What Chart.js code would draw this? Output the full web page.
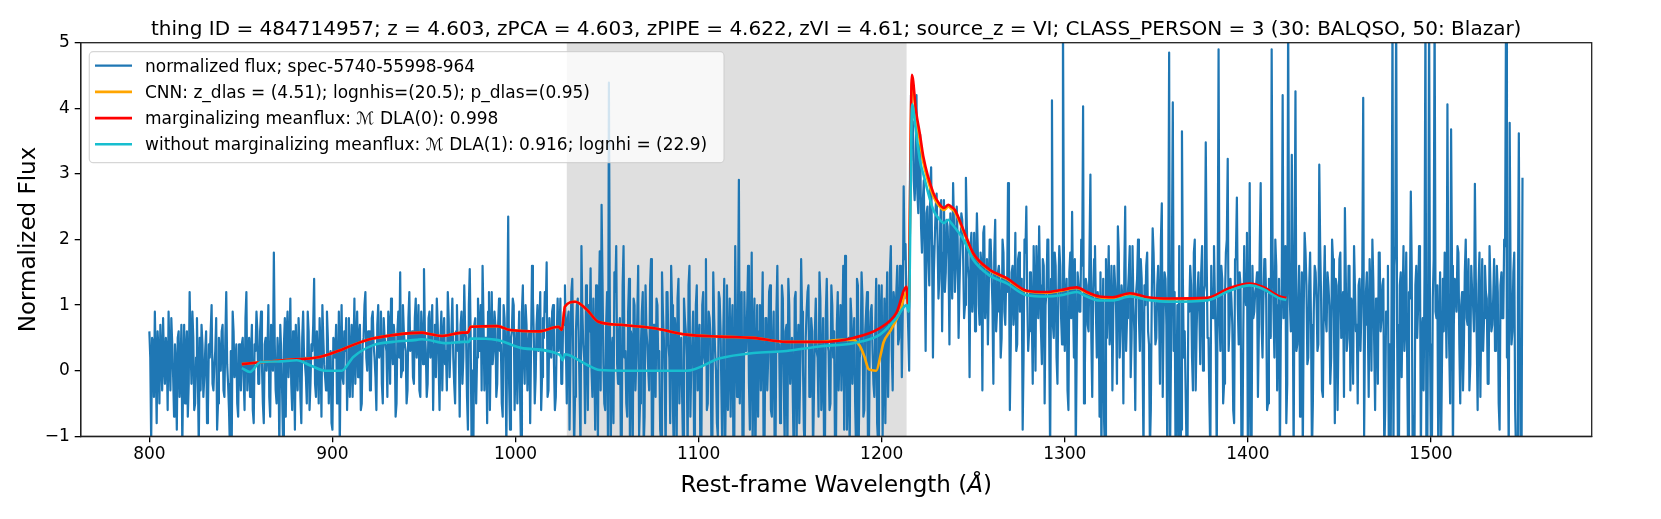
<!DOCTYPE html>
<html><head><meta charset="utf-8">
<script src="https://cdn.jsdelivr.net/npm/chart.js@4.4.1/dist/chart.umd.min.js"></script>
<style>html,body{margin:0;padding:0;background:#fff;overflow:hidden}canvas{display:block}</style>
</head><body>
<canvas id="c" width="1661" height="519" style="width:1661px;height:519px"></canvas>
<script>
// ---------------- data ----------------
const waveStart = 800, waveStep = 1;   // rest-frame wavelength grid (Å)
// flux at 800, 801, ... 1550 Å
const fluxValues = [
// 800-849
0.6,-1.1,0.4,0.9,-0.8,0.3,0.7,-0.3,0.1,0.5,
-0.6,0.2,0.8,-0.1,0.4,-0.9,0.6,0.0,-1.2,0.7,
0.3,-0.7,1.2,-0.2,0.5,-0.5,0.8,-1.2,-0.3,0.4,
-0.1,0.6,-0.6,0.2,1.0,-0.3,0.3,-0.9,0.5,0.0,
0.7,-0.4,1.2,-0.2,-1.2,-1.1,0.6,0.1,-0.5,0.4,
// 850-899
-0.3,0.5,-0.6,1.2,0.1,-0.4,0.7,-0.8,0.3,0.6,
-0.2,0.9,-0.5,0.4,0.0,1.0,-0.7,0.2,1.8,-0.3,
0.5,-1.2,0.3,-1.1,0.8,0.6,-0.1,1.1,-0.6,0.2,
0.7,-0.3,0.4,-0.8,0.9,0.1,-0.5,0.6,-0.2,0.3,
1.4,-0.4,0.2,0.8,-0.7,0.5,-0.1,0.9,-0.5,0.3,
// 900-999
-0.9,0.4,0.7,-0.3,-1.2,1.0,-0.2,0.3,-0.6,0.8,
0.2,-0.4,1.1,0.4,-0.1,0.7,-0.5,0.5,1.2,0.0,
0.6,-0.3,0.9,0.2,-0.6,1.0,0.3,-0.2,0.8,0.4,
-0.4,0.7,1.1,0.1,0.5,-0.5,0.9,1.5,0.0,0.6,
0.3,-0.3,1.2,0.5,-0.1,0.8,0.2,1.0,-0.4,0.6,
1.55,0.3,-0.2,0.9,0.4,-0.6,0.7,1.1,0.1,0.5,
-0.3,0.8,0.3,1.2,-0.1,0.6,0.2,-0.5,1.0,0.4,
0.7,-0.2,1.3,0.5,-0.9,1.55,-1.2,-1.1,0.8,0.2,
0.6,1.0,1.6,-0.3,0.5,0.9,-0.6,1.2,0.3,0.7,
-0.2,1.1,0.4,-0.7,0.8,-1.2,2.35,-0.9,0.6,1.0,
// 1000-1027
0.2,-0.5,0.9,-1.2,1.3,-0.2,0.7,0.3,-0.8,1.6,
0.5,-0.1,1.0,0.6,-0.6,0.8,1.2,1.65,-0.3,0.4,
0.9,0.1,-0.4,1.1,0.5,-0.2,0.8,1.3,
// 1028-1213 (Lyman forest)
-0.5,0.9,0.2,1.4,-1.2,0.6,1.1,-0.3,1.9,0.4,
-0.8,0.7,1.0,1.56,-0.4,0.3,1.3,-1.1,1.82,2.53,
0.1,-0.6,1.2,4.39,-1.3,0.5,1.5,1.9,-0.2,0.8,
-1.2,1.9,0.3,-0.7,1.4,0.6,-1.3,1.0,0.2,1.6,
-0.5,0.9,-1.2,1.3,0.4,-0.3,1.7,-1.4,0.7,1.1,
0.0,-0.9,1.5,0.5,-1.3,1.2,0.2,1.6,-0.6,0.8,
-1.2,1.4,0.3,-0.4,1.1,0.6,-1.3,1.6,0.1,0.9,
-0.7,1.3,0.4,-1.5,1.0,0.2,1.7,-0.5,0.8,-1.2,
1.5,0.3,-0.8,1.2,0.6,-1.3,1.4,0.0,-0.6,1.1,
0.5,-1.2,1.9,-0.4,2.91,0.7,-1.3,1.2,0.3,1.6,
-0.9,1.8,0.4,-1.4,1.0,0.6,-0.3,1.5,-1.2,0.8,
0.2,1.3,-0.7,0.9,-1.3,1.6,0.4,-0.5,1.1,-1.1,
0.7,1.4,-0.2,0.5,-1.4,1.2,0.3,-0.8,1.7,0.1,
-1.2,0.9,1.3,-0.4,0.6,-1.3,1.1,0.2,1.5,-0.6,
0.8,-1.2,1.4,0.3,-0.5,1.0,0.6,-1.3,1.2,0.4,
-0.3,1.6,1.75,-0.9,0.5,1.1,-0.2,0.8,-1.2,1.3,
0.2,1.5,-0.7,0.6,1.2,-1.3,0.9,0.3,-0.4,1.4,
-1.1,0.7,1.3,0.1,-0.8,1.5,0.6,1.9,-0.3,1.0,
1.2,0.4,1.6,-0.1,2.81,1.93,
// 1214-1263 (Ly-alpha emission)
1.2,0.0,4.2,3.8,2.6,4.2,2.4,3.6,1.8,2.9,
0.3,2.5,1.3,3.1,0.2,2.0,2.7,1.1,2.3,0.6,
2.6,1.5,2.2,0.4,2.0,2.86,1.2,2.5,0.5,1.9,
2.3,0.8,2.94,1.6,-0.1,2.1,1.3,0.6,2.4,1.0,
1.8,-0.3,2.2,1.2,0.4,2.0,1.5,-0.2,2.3,0.9,
// 1264-1550
1.6,0.2,2.0,0.9,1.4,2.86,-0.6,1.5,0.7,2.1,
0.4,1.8,1.1,-0.9,2.0,2.5,0.3,1.5,0.8,1.9,
0.0,1.3,2.2,0.6,1.7,-0.5,1.2,2.0,-1.3,4.12,
0.5,1.6,-0.2,1.9,0.8,5.5,0.3,1.4,-0.6,1.8,
2.42,0.2,-1.3,1.5,0.9,2.0,4.03,0.1,1.3,0.6,
2.99,-0.4,1.7,0.9,1.2,-0.7,-1.3,1.4,-1.3,0.5,
1.9,0.7,-0.3,1.6,1.0,2.2,0.2,1.3,-0.5,2.5,
0.8,1.5,-0.1,1.9,0.6,1.2,2.0,0.3,1.4,-1.3,
1.0,1.8,0.4,-0.6,2.17,1.1,0.5,1.6,-0.2,2.55,
0.9,1.4,-1.3,4.85,-1.3,4.09,1.2,-0.4,-1.3,-1.3,
3.65,0.2,-0.3,-1.3,0.9,1.3,-0.3,2.0,0.6,1.5,
0.1,1.9,1.2,3.48,0.5,-0.5,1.6,0.8,1.1,-1.3,
4.9,0.3,1.4,-0.2,1.8,3.23,0.7,1.1,-0.6,1.7,
2.64,0.4,1.3,-1.3,1.9,1.0,-1.3,2.86,-1.3,0.8,
1.2,1.5,0.6,2.86,0.2,1.7,1.1,-0.5,1.0,4.9,
0.9,2.0,-0.3,1.4,0.6,4.2,1.2,-0.8,5.5,1.0,
3.29,-1.3,4.26,0.4,1.6,0.7,-1.3,2.1,1.3,0.2,
1.8,-1.3,0.9,1.5,0.3,3.14,1.1,-0.4,1.9,0.6,
1.3,-0.2,2.0,0.8,1.4,-0.6,1.7,0.5,1.2,2.48,
0.3,1.6,-0.3,1.0,1.9,0.6,-0.5,1.4,0.9,4.16,
0.7,1.5,-0.4,1.2,2.0,0.4,1.1,-0.2,1.8,0.8,
1.4,-0.6,0.9,-1.3,-1.3,5.5,1.6,5.5,-1.3,1.3,
-0.1,1.9,0.7,0.2,1.2,2.73,-1.3,-1.3,1.6,1.0,
1.7,0.6,-0.3,5.5,-1.3,5.5,-1.3,1.1,5.5,0.8,
-1.3,1.5,-1.3,0.6,1.2,4.06,0.3,3.68,-1.3,1.4,
0.9,1.8,-0.5,1.2,0.4,2.0,0.7,-0.3,1.6,1.0,
2.85,0.5,1.3,-0.4,1.7,0.8,1.2,-0.2,1.9,0.6,
1.1,0.3,1.6,-0.5,1.3,0.8,2.0,5.5,0.4,3.78,
0.4,1.5,-0.6,-1.3,3.62,-1.3,2.94
];
// flux at the in-between pixels 800.5, 801.5, ... 1549.5 Å
const fluxHalfValues = [
// 800.5-849.5
0.2,0.5,-0.4,0.1,0.6,-0.5,0.2,0.8,-0.2,0.3,
0.9,-0.3,0.4,-0.7,0.1,0.5,-0.4,0.7,0.0,-0.5,
0.6,-0.2,0.4,0.9,-0.6,0.2,-0.1,0.5,0.7,-0.4,
0.3,-0.8,0.4,0.6,-0.2,0.1,0.8,-0.5,0.2,0.6,
-0.3,0.5,0.1,-0.6,0.3,0.9,-0.1,0.4,-0.7,0.2,
// 850.5-899.5
0.4,-0.1,0.8,-0.3,0.5,0.2,-0.6,0.4,0.9,-0.2,
0.6,0.1,-0.8,0.5,0.3,-0.4,0.7,0.0,0.4,-0.5,
0.2,0.7,-0.3,0.4,-0.7,0.9,0.3,-0.2,0.6,-0.9,
0.1,0.8,-0.4,0.5,0.2,-0.1,0.9,-0.6,0.4,0.7,
-0.2,0.6,-0.5,0.3,1.0,0.1,-0.3,0.5,0.2,-0.8,
// 900.5-999.5
0.5,0.2,-0.5,0.9,0.3,-0.1,0.6,0.8,0.1,-0.4,
0.7,0.3,-0.2,0.9,0.5,-0.6,0.4,1.0,0.2,0.6,
-0.3,0.8,0.4,-0.1,0.7,0.2,0.9,-0.5,0.5,0.3,
0.9,-0.2,0.4,0.7,-0.7,0.6,0.2,-0.1,1.0,0.4,
-0.5,0.8,0.3,0.6,-0.2,1.1,0.5,-0.3,0.9,0.1,
0.6,-0.4,0.8,0.2,1.0,0.4,-0.1,0.7,-0.6,0.9,
0.5,0.1,-0.3,0.8,0.4,1.1,-0.2,0.6,0.3,-0.7,
0.9,0.2,0.6,-0.4,1.0,0.5,0.0,0.7,-0.5,1.1,
0.3,-0.3,0.8,0.5,-0.8,1.2,0.4,0.1,0.9,-0.4,
0.7,0.3,-0.5,1.0,0.2,0.8,-0.2,0.5,1.1,-0.6,
// 1000.5-1027.5
0.6,0.3,-0.4,0.9,0.2,1.0,-0.3,0.6,0.4,1.1,
-0.5,0.7,0.3,1.2,-0.1,0.5,0.9,-0.4,0.8,0.2,
1.0,-0.6,0.5,0.3,1.1,-0.2,0.7,0.4,
// 1028.5-1213.5
0.8,-0.9,1.2,0.3,-0.4,1.0,0.5,-1.2,0.9,0.2,
1.3,-0.6,0.6,0.0,1.1,-0.9,0.4,0.9,-0.3,1.4,
-0.5,0.7,-1.2,1.0,0.3,-0.8,1.2,0.1,0.6,-1.1,
1.3,0.2,-0.5,0.9,-1.2,0.5,1.1,-0.3,0.8,-1.0,
0.4,1.2,-0.7,0.6,0.0,1.3,-1.2,0.7,-0.4,1.0,
0.3,-1.1,0.9,-0.2,1.2,0.4,-0.8,1.0,-1.3,0.6,
1.1,-0.5,0.5,-1.2,0.8,0.2,1.3,-0.7,0.4,-1.0,
1.0,-0.3,0.7,-1.2,1.2,0.1,-0.6,0.9,0.5,-1.3,
0.8,0.0,-1.0,1.1,-0.4,0.6,-1.2,1.3,0.2,-0.7,
1.0,-1.1,0.4,0.8,-0.5,1.2,-1.3,0.3,0.9,-0.2,
0.5,-1.2,1.1,0.1,-0.7,1.0,0.6,-1.3,0.8,-0.3,
1.2,-0.6,0.4,-1.1,0.9,0.3,-0.8,1.3,-0.2,0.6,
-1.3,1.0,0.2,-0.5,1.1,-1.2,0.7,0.0,0.9,-0.9,
0.5,1.2,-0.4,0.8,-1.3,0.6,0.3,-0.7,1.1,-0.1,
-1.1,0.9,0.4,-0.6,1.3,0.2,-1.2,0.7,-0.3,1.0,
0.6,-0.9,1.2,0.0,-1.3,0.8,0.4,-0.5,1.4,-1.0,
0.3,1.1,-0.6,0.9,-1.2,0.5,1.0,-0.2,0.7,-0.8,
1.3,0.2,-1.0,1.1,0.6,-0.4,1.5,0.3,1.2,0.8,
1.6,0.5,1.4,0.9,1.7,1.1,
// 1214.5-1263.5
0.6,3.2,3.4,2.9,3.0,2.7,3.2,2.2,2.6,1.6,
2.4,1.7,2.8,1.9,1.5,2.5,2.0,1.4,2.6,1.8,
1.2,2.3,1.7,2.4,1.1,2.2,1.6,2.0,1.3,2.4,
1.7,1.0,2.2,1.4,1.9,0.9,2.1,1.5,1.8,0.7,
1.6,2.1,0.8,1.7,1.3,2.0,1.0,1.8,0.6,1.5,
// 1264.5-1549.5
1.3,0.5,1.8,0.7,1.2,1.9,0.4,1.6,1.0,0.3,
1.7,0.9,1.4,0.2,1.8,1.1,0.6,1.5,-0.2,1.2,
1.9,0.8,1.3,0.1,1.6,1.0,2.0,0.5,1.4,0.7,
1.8,0.2,1.2,1.6,0.4,1.9,1.0,-0.3,1.5,0.8,
1.1,1.7,0.3,1.3,0.9,1.6,-0.5,1.4,0.7,1.8,
0.5,1.2,1.9,0.2,1.0,1.5,0.6,-0.8,1.7,1.1,
0.4,1.6,0.9,1.3,-0.2,1.8,0.7,1.1,1.5,0.3,
1.2,1.9,0.5,1.0,-0.6,1.4,0.8,1.7,0.2,1.3,
1.6,0.6,-1.2,1.1,1.8,0.4,1.3,0.9,2.0,-0.4,
1.5,0.7,1.2,-1.3,1.7,0.3,-1.3,1.0,1.9,-0.9,
1.4,0.6,-1.2,1.1,1.6,0.2,1.8,-0.3,1.2,0.9,
1.5,0.0,1.3,1.7,0.5,-1.3,1.0,1.9,0.4,1.2,
0.8,1.6,-0.5,1.1,2.0,0.3,1.4,0.7,-0.8,1.8,
1.0,1.5,-1.3,0.6,1.2,2.1,0.1,-1.3,1.6,0.9,
1.3,-0.4,1.9,0.7,1.1,1.7,-0.6,1.4,0.5,1.8,
0.2,1.6,1.0,-1.3,1.3,0.8,1.9,-0.2,1.5,0.6,
1.2,1.7,0.3,1.0,-0.7,1.5,0.9,1.8,0.1,1.3,
0.7,-0.5,1.6,1.1,0.4,1.9,-0.3,1.2,0.8,1.5,
1.0,0.2,1.7,-0.8,1.3,0.6,1.8,0.9,-0.4,1.4,
0.5,1.6,1.1,-0.2,1.9,0.7,1.3,0.3,1.5,-1.0,
1.2,0.8,1.7,0.0,1.4,-0.6,1.0,1.8,0.6,1.3,
-1.3,0.9,1.6,0.4,1.2,-1.3,1.9,0.7,-1.3,1.5,
1.0,0.3,1.8,-1.3,1.1,1.6,-0.7,1.3,0.5,1.9,
-1.3,0.8,1.5,-1.3,1.2,0.4,-1.3,1.7,0.9,1.3,
0.6,-1.3,1.4,1.8,0.2,1.1,-0.5,1.6,0.7,1.3,
1.9,0.4,1.0,-0.3,1.5,0.8,1.7,0.1,1.2,0.6,
1.4,-0.6,1.8,0.9,0.3,1.6,1.1,-0.2,1.3,0.7,
1.7,0.5,1.2,-0.9,1.5,0.8,1.9,0.2,-1.3,1.4,
0.6,1.8,-1.3,1.1,0.5,-1.3
];

// model curves: [wavelength, normalized flux]
const cnnCurve = [[850.5,0.10],[873,0.16],[893,0.21],[905,0.32],[911,0.39],[922,0.49],[935,0.55],[949,0.58],[953,0.56],[960,0.53],[971,0.58],[974,0.58],[975.5,0.67],[990,0.68],[997,0.62],[1013,0.60],[1023.5,0.67],[1025.3,0.62],[1027,0.98],[1032.5,1.05],[1039,0.93],[1045,0.75],[1057,0.70],[1075,0.65],[1093.5,0.55],[1111.7,0.52],[1130,0.50],[1148,0.44],[1166,0.44],[1178,0.47],[1184.5,0.47],[1188,0.38],[1190.5,0.22],[1193,0.02],[1197,0.0],[1199.5,0.25],[1201,0.43],[1205,0.62],[1210,0.9],[1213.6,1.2],[1214.6,0.9],[1216.5,4.42],[1218.8,3.85],[1220.9,3.5],[1222.7,3.18],[1228.2,2.66],[1231.8,2.5],[1234,2.45],[1236.4,2.5],[1238,2.47],[1240,2.42],[1244.6,2.13],[1250,1.78],[1259,1.53],[1268.3,1.4],[1279.2,1.21],[1290,1.19],[1298,1.22],[1306.5,1.26],[1312,1.19],[1319,1.12],[1326,1.11],[1335.6,1.17],[1345,1.11],[1357.5,1.09],[1377.5,1.1],[1390,1.25],[1401,1.32],[1408,1.27],[1417.5,1.12],[1421,1.1]];
const margCurve = [[850.5,0.10],[873,0.16],[893,0.21],[905,0.32],[911,0.39],[922,0.49],[935,0.55],[949,0.58],[953,0.56],[960,0.53],[971,0.58],[974,0.58],[975.5,0.67],[990,0.68],[997,0.62],[1013,0.60],[1023.5,0.67],[1025.3,0.62],[1027,0.98],[1032.5,1.05],[1039,0.93],[1045,0.75],[1057,0.70],[1075,0.65],[1093.5,0.55],[1111.7,0.52],[1130,0.50],[1148,0.44],[1166,0.44],[1184.5,0.50],[1199,0.65],[1208,0.88],[1213.6,1.28],[1214.6,0.93],[1216.5,4.51],[1218.8,3.95],[1220.9,3.6],[1222.7,3.27],[1228.2,2.71],[1231.8,2.53],[1234,2.48],[1236.4,2.53],[1238,2.5],[1240,2.45],[1244.6,2.15],[1250,1.79],[1259,1.54],[1268.3,1.41],[1279.2,1.22],[1290,1.20],[1298,1.23],[1306.5,1.27],[1312,1.20],[1319,1.13],[1326,1.12],[1335.6,1.18],[1345,1.12],[1357.5,1.10],[1377.5,1.11],[1390,1.26],[1401,1.33],[1408,1.28],[1417.5,1.13],[1421,1.11]];
const noMargCurve = [[850.5,0.04],[855,-0.02],[860.5,0.13],[870,0.14],[880.5,0.16],[888,0.08],[896,0.0],[905,0.0],[911.4,0.21],[922.3,0.39],[933,0.44],[946,0.47],[949,0.48],[962.4,0.42],[971.5,0.44],[974.5,0.44],[975.5,0.49],[989.7,0.47],[1004.3,0.34],[1024.3,0.24],[1025.7,0.16],[1027,0.25],[1029,0.24],[1039,0.09],[1046,0.01],[1060,0.0],[1093.5,0.0],[1111.7,0.19],[1130,0.27],[1148,0.30],[1166,0.37],[1184.5,0.42],[1199,0.55],[1208,0.8],[1213.6,1.0],[1214.8,0.9],[1216.6,4.06],[1218.5,3.7],[1220.9,3.2],[1222.7,3.0],[1228.2,2.45],[1231.8,2.3],[1234,2.25],[1236.4,2.3],[1238,2.25],[1244.6,2.0],[1250,1.69],[1259,1.45],[1268.3,1.33],[1279.2,1.15],[1290,1.13],[1298,1.15],[1306.5,1.2],[1312,1.13],[1319,1.07],[1326,1.07],[1335.6,1.13],[1345,1.08],[1357.5,1.05],[1377.5,1.07],[1390,1.22],[1401,1.3],[1408,1.25],[1417.5,1.1],[1421,1.08]];

const forestBand = [1028.0, 1213.6];
const xTicks = [800, 900, 1000, 1100, 1200, 1300, 1400, 1500];
const yTicks = [-1, 0, 1, 2, 3, 4, 5];
const xRange = [762.5, 1587.8];
const yRange = [-1, 5];
const seriesNames = [
  'normalized flux; spec-5740-55998-964',
  'CNN: z_dlas = (4.51); lognhis=(20.5); p_dlas=(0.95)',
  'marginalizing meanflux: \u2133 DLA(0): 0.998',
  'without marginalizing meanflux: \u2133 DLA(1): 0.916; lognhi = (22.9)'
];
const seriesColors = ['#1f77b4', '#ffa500', '#ff0000', '#17becf'];
const titleText = 'thing ID = 484714957; z = 4.603, zPCA = 4.603, zPIPE = 4.622, zVI = 4.61; source_z = VI; CLASS_PERSON = 3 (30: BALQSO, 50: Blazar)';
const xTitle = ['Rest-frame Wavelength (', '\u00c5', ')'];
const yTitle = 'Normalized Flux';

// ---------------- chart ----------------
const FONT = '"DejaVu Sans", "Liberation Sans", sans-serif';
const fluxPoints = [];
fluxValues.forEach((v, i) => {
  fluxPoints.push({x: waveStart + i * waveStep, y: v});
  if (i < fluxHalfValues.length) fluxPoints.push({x: waveStart + (i + 0.5) * waveStep, y: fluxHalfValues[i]});
});
const toPts = c => c.map(p => ({x: p[0], y: p[1]}));
const fmt = v => (v < 0 ? '\u2212' + Math.abs(v) : String(v));

const decor = {
  id: 'decor',
  beforeDatasetsDraw(chart) {
    const {ctx, chartArea: a, scales: {x}} = chart;
    const x0 = x.getPixelForValue(forestBand[0]), x1 = x.getPixelForValue(forestBand[1]);
    ctx.save();
    ctx.fillStyle = 'rgba(128,128,128,0.25)';
    ctx.fillRect(x0, a.top, x1 - x0, a.bottom - a.top);
    ctx.restore();
  },
  afterDatasetsDraw(chart) {
    const {ctx, chartArea: a} = chart;
    ctx.save();
    ctx.strokeStyle = '#222';
    ctx.lineWidth = 1.3;
    ctx.strokeRect(a.left, a.top, a.right - a.left, a.bottom - a.top);
    ctx.restore();
  },
  afterDraw(chart) {
    const {ctx, chartArea: a} = chart;
    const cx = (a.left + a.right) / 2, cy = (a.top + a.bottom) / 2;
    ctx.save();
    ctx.fillStyle = '#000';
    ctx.textBaseline = 'alphabetic';
    ctx.font = '20px ' + FONT;
    ctx.textAlign = 'center';
    ctx.fillText(titleText, cx, 35);
    const fN = '23px ' + FONT, fI = 'italic 23px ' + FONT;
    ctx.font = fN; const w0 = ctx.measureText(xTitle[0]).width, w2 = ctx.measureText(xTitle[2]).width;
    ctx.font = fI; const w1 = ctx.measureText(xTitle[1]).width;
    const sx = cx - (w0 + w1 + w2) / 2;
    ctx.textAlign = 'left';
    ctx.font = fN; ctx.fillText(xTitle[0], sx, 491.7);
    ctx.font = fI; ctx.fillText(xTitle[1], sx + w0, 491.7);
    ctx.font = fN; ctx.fillText(xTitle[2], sx + w0 + w1, 491.7);
    ctx.save();
    ctx.translate(35, cy);
    ctx.rotate(-Math.PI / 2);
    ctx.textAlign = 'center';
    ctx.font = fN;
    ctx.fillText(yTitle, 0, 0);
    ctx.restore();
    // legend
    const L = 89.3, T = 51.7, R = 724, B = 162.7, r = 4;
    ctx.beginPath();
    ctx.moveTo(L + r, T); ctx.lineTo(R - r, T); ctx.arcTo(R, T, R, T + r, r);
    ctx.lineTo(R, B - r); ctx.arcTo(R, B, R - r, B, r);
    ctx.lineTo(L + r, B); ctx.arcTo(L, B, L, B - r, r);
    ctx.lineTo(L, T + r); ctx.arcTo(L, T, L + r, T, r);
    ctx.closePath();
    ctx.fillStyle = 'rgba(255,255,255,0.8)';
    ctx.fill();
    ctx.strokeStyle = 'rgba(204,204,204,0.8)';
    ctx.lineWidth = 1.2;
    ctx.stroke();
    ctx.font = '17px ' + FONT;
    ctx.textAlign = 'left';
    seriesNames.forEach((name, i) => {
      const y = 65.7 + i * 26.2;
      ctx.strokeStyle = seriesColors[i];
      ctx.lineWidth = i === 0 ? 2.3 : 2.6;
      ctx.beginPath(); ctx.moveTo(95, y); ctx.lineTo(132, y); ctx.stroke();
      ctx.fillStyle = '#000';
      ctx.fillText(name, 145, y + 6);
    });
    ctx.restore();
  }
};

const tickFont = {family: FONT, size: 17};
new Chart(document.getElementById('c'), {
  type: 'line',
  data: {
    datasets: [
      {label: seriesNames[0], data: fluxPoints, borderColor: seriesColors[0], borderWidth: 2.2, pointRadius: 0, tension: 0, order: 4, clip: 0, borderJoinStyle: 'round'},
      {label: seriesNames[1], data: toPts(cnnCurve), borderColor: seriesColors[1], borderWidth: 2.6, pointRadius: 0, cubicInterpolationMode: 'monotone', order: 3, clip: 0},
      {label: seriesNames[2], data: toPts(margCurve), borderColor: seriesColors[2], borderWidth: 2.6, pointRadius: 0, cubicInterpolationMode: 'monotone', order: 2, clip: 0},
      {label: seriesNames[3], data: toPts(noMargCurve), borderColor: seriesColors[3], borderWidth: 2.6, pointRadius: 0, cubicInterpolationMode: 'monotone', order: 1, clip: 0}
    ]
  },
  options: {
    animation: false, responsive: false, devicePixelRatio: 1,
    events: [],
    layout: {padding: {left: 0, top: 42.7, right: 69.3, bottom: 0}},
    plugins: {legend: {display: false}, tooltip: {enabled: false}, title: {display: false}},
    scales: {
      x: {
        type: 'linear', min: xRange[0], max: xRange[1],
        afterBuildTicks: s => { s.ticks = xTicks.map(v => ({value: v})); },
        afterFit: s => { s.height = 82.7; },
        grid: {drawOnChartArea: false, drawTicks: true, tickLength: 6, color: '#000', lineWidth: 1.3},
        border: {display: true, color: '#000', width: 1.3},
        ticks: {font: tickFont, color: '#000', padding: 2, maxRotation: 0, autoSkip: false, callback: v => fmt(v)}
      },
      y: {
        type: 'linear', min: yRange[0], max: yRange[1],
        afterBuildTicks: s => { s.ticks = yTicks.map(v => ({value: v})); },
        afterFit: s => { s.width = 80.7; },
        grid: {drawOnChartArea: false, drawTicks: true, tickLength: 6, color: '#000', lineWidth: 1.3},
        border: {display: true, color: '#000', width: 1.3},
        ticks: {font: tickFont, color: '#000', padding: 5, autoSkip: false, callback: v => fmt(v)}
      }
    }
  },
  plugins: [decor]
});
</script>
</body></html>
